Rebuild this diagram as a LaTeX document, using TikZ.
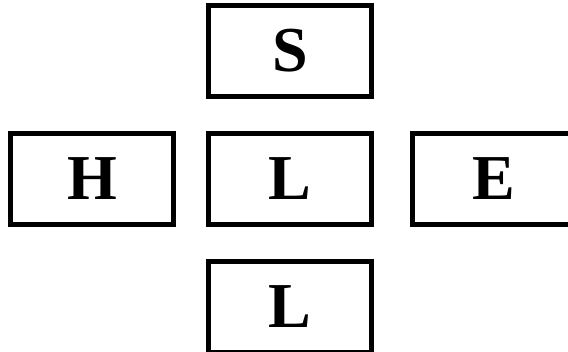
\documentclass[tikz,border=0pt]{standalone}
\usepackage{fontspec}
\setmainfont{Liberation Serif}
\usepackage{tikz}
\usetikzlibrary{positioning}

\begin{document}
\begin{tikzpicture}[
  x=1pt, y=1pt,
  font=\fontsize{64}{64}\selectfont\bfseries,
  letterbox/.style={draw=black, line width=5pt, fill=white, inner sep=0pt,
                    minimum width=163pt, minimum height=91pt},
  node distance=32pt and 36pt
]
\useasboundingbox (0,0) rectangle (568,-351);
% ----- centre column -----
\node[letterbox] (midL) at (290,-179) {L};
\node[letterbox, above=of midL] (topS) {S};
\node[letterbox, below=of midL] (botL) {L};
% ----- side boxes -----
\node[letterbox, left=30pt of midL] (leftH) {H};
\node[letterbox, right=of midL] (rightE) {E};
\end{tikzpicture}
\end{document}
